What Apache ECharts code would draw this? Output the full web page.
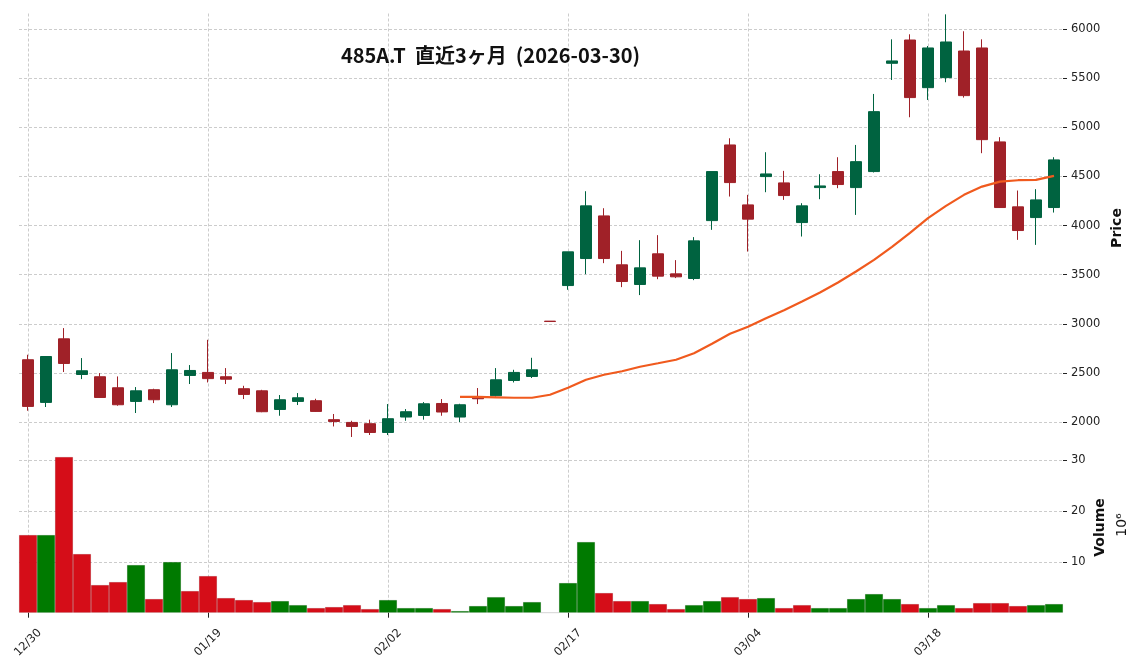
<!DOCTYPE html>
<html>
<head>
<meta charset="utf-8">
<script src="https://cdn.jsdelivr.net/npm/echarts@6/dist/echarts.min.js"></script>
<style>
html,body{margin:0;padding:0;background:#fff;}
#chart{width:1144px;height:670px;}
</style>
</head>
<body>
<div id="chart"></div>
<script>
const titleText = '485A.T  直近3ヶ月  (2026-03-30)';
const dates = ['12/30','01/05','01/06','01/07','01/08','01/09','01/13','01/14','01/15','01/16',
  '01/19','01/20','01/21','01/22','01/23','01/26','01/27','01/28','01/29','01/30',
  '02/02','02/03','02/04','02/05','02/06','02/09','02/10','02/12','02/13','02/16',
  '02/17','02/18','02/19','02/20','02/24','02/25','02/26','02/27','03/02','03/03',
  '03/04','03/05','03/06','03/09','03/10','03/11','03/12','03/13','03/16','03/17',
  '03/18','03/19','03/23','03/24','03/25','03/26','03/27','03/30'];
const opens  = [2634,2200,2847,2484,2461,2349,2210,2329,2176,2474,2505,2461,2339,2318,2128,2210,2217,2024,1996,1983,
  1894,2051,2067,2189,2051,2254,2268,2423,2464,3027,3389,3664,4098,3600,3400,3712,3508,3461,4050,4820,
  4210,4498,4434,4030,4386,4549,4386,4549,5651,5888,5403,5505,5776,5807,4851,4190,4081,4183];
const highs  = [2685,2670,2956,2651,2498,2464,2356,2339,2702,2580,2837,2549,2369,2328,2275,2295,2237,2082,2013,2024,
  2183,2132,2203,2234,2186,2346,2549,2532,2654,3027,3732,4349,4176,3742,3851,3902,3648,3882,4549,4888,
  4312,4746,4556,4227,4522,4695,4820,5339,5895,5946,5827,6149,5977,5895,4899,4356,4370,4695];
const lows   = [2115,2153,2509,2437,2245,2166,2092,2193,2153,2387,2403,2387,2234,2100,2064,2173,2105,1955,1848,1868,
  1868,2013,2024,2064,2000,2183,2260,2403,2448,3023,3346,3505,3617,3373,3292,3454,3465,3444,3956,4295,
  3735,4339,4261,3888,4268,4380,4108,4540,5481,5102,5278,5458,5302,4736,4180,3854,3803,4132];
const closes = [2159,2667,2596,2522,2250,2176,2318,2227,2532,2525,2442,2436,2281,2105,2227,2247,2108,2006,1955,1894,
  2034,2105,2186,2102,2176,2237,2430,2505,2532,3023,3732,4200,3664,3430,3569,3485,3478,3844,4549,4437,
  4065,4525,4305,4200,4403,4417,4650,5159,5675,5302,5807,5868,5322,4874,4183,3949,4261,4668];
// volume in units of 10^6
const volumes = [15.3,15.3,30.65,11.55,5.45,6.04,9.39,2.7,9.98,4.27,7.22,2.89,2.5,2.1,2.3,1.5,0.92,1.12,1.5,0.72,
  2.5,0.92,0.92,0.72,0.33,1.32,3.07,1.32,2.1,0,5.85,13.92,3.88,2.3,2.3,1.71,0.72,1.5,2.3,3.07,
  2.7,2.89,0.92,1.5,0.92,0.92,2.7,3.68,2.7,1.71,0.92,1.5,0.92,1.9,1.9,1.32,1.5,1.71];
// 25-day moving average as drawn
const ma25 = [null,null,null,null,null,null,null,null,null,null,null,null,null,null,null,null,null,null,null,null,
  null,null,null,null,2257,2257,2252,2247,2247,2278,2349,2430,2481,2517,2563,2598,2634,2700,2796,2898,
  2969,3056,3137,3227,3318,3420,3532,3651,3783,3925,4075,4200,4312,4396,4447,4461,4464,4505];
const priceTicks = [2000,2500,3000,3500,4000,4500,5000,5500,6000];
const volTicks = [10,20,30];
const dateTickIdx = [0,10,20,30,40,50];

const UP = '#006340', DOWN = '#a02128', VUP = '#007a00', VDOWN = '#d50d18';
const GRIDC = '#bfbfbf';
const FONT = 'DejaVu Sans';

const candleData = dates.map((d,i)=>[opens[i],closes[i],lows[i],highs[i]]);
const volData = volumes.map((v,i)=>{
  const up = i===0 ? closes[i]>=opens[i] : closes[i]>closes[i-1];
  const c = up ? VUP : VDOWN;
  return {value:v, itemStyle:{color:c}};
});
const vLines = dateTickIdx.map(i=>({xAxis:i}));
const vLineMark = {
  silent:true, symbol:['none','none'], z:1,
  label:{show:false},
  lineStyle:{color:GRIDC,type:[3,2],width:0.8},
  data:vLines, animation:false
};
const splitStyle = {show:true, lineStyle:{color:GRIDC,type:[3,2],width:0.8}};

const chart = echarts.init(document.getElementById('chart'), null, {renderer:'canvas'});
const gridL = 19, gridW = 1044;
chart.setOption({
  animation:false,
  backgroundColor:'#ffffff',
  grid:[
    {left:gridL, width:gridW, top:12, height:429.5},
    {left:gridL, width:gridW, top:441.5, height:171.2}
  ],
  xAxis:[
    {type:'category', gridIndex:0, data:dates, boundaryGap:true,
      axisLine:{show:false}, axisTick:{show:false}, axisLabel:{show:false}, splitLine:{show:false}},
    {type:'category', gridIndex:1, data:dates, boundaryGap:true,
      axisLine:{show:false},
      axisTick:{show:true, alignWithLabel:true, length:5, lineStyle:{color:'#222',width:1},
        interval:(i)=>dateTickIdx.indexOf(i)>=0},
      axisLabel:{show:true, interval:(i)=>dateTickIdx.indexOf(i)>=0, rotate:45, align:'center',
        verticalAlign:'middle', margin:30, color:'#222', fontFamily:FONT, fontSize:11.5},
      splitLine:{show:false}}
  ],
  yAxis:[
    {type:'value', gridIndex:0, position:'right', min:1802, max:6173,
      axisLine:{show:false},
      axisTick:{show:true, length:4, customValues:priceTicks, lineStyle:{color:'#222'}},
      axisLabel:{show:true, customValues:priceTicks, formatter:(v)=>String(v),
        color:'#222', fontFamily:FONT, fontSize:11.5, margin:8},
      splitLine:splitStyle},
    {type:'value', gridIndex:1, position:'right', min:0, max:33.7,
      axisLine:{show:false},
      axisTick:{show:true, length:4, customValues:volTicks, lineStyle:{color:'#222'}},
      axisLabel:{show:true, customValues:volTicks, formatter:(v)=>String(v),
        color:'#222', fontFamily:FONT, fontSize:11.5, margin:8},
      splitLine:splitStyle}
  ],
  series:[
    {type:'candlestick', xAxisIndex:0, yAxisIndex:0, data:candleData, barWidth:11, z:3,
      itemStyle:{color:UP, color0:DOWN, borderColor:UP, borderColor0:DOWN, borderWidth:1},
      markLine:vLineMark},
    {type:'line', xAxisIndex:0, yAxisIndex:0, data:ma25, showSymbol:false, symbol:'none', z:4,
      lineStyle:{color:'#f05a1e', width:2.2}, connectNulls:false},
    {type:'bar', xAxisIndex:1, yAxisIndex:1, data:volData, barWidth:'100%', barCategoryGap:'0%', z:3,
      itemStyle:{borderColor:'rgba(0,0,0,0.18)', borderWidth:0.5},
      markLine:vLineMark}
  ],
  graphic:[
    {type:'text', x:490.5, y:55.5, z:10, style:{text:titleText, font:'bold 20px "Noto Sans CJK JP"',
      fill:'#111', textAlign:'center', textVerticalAlign:'middle', align:'center', verticalAlign:'middle'}},
    {type:'text', x:1117, y:228, rotation:Math.PI/2, z:10, style:{text:'Price', font:'bold 14px "DejaVu Sans"',
      fill:'#111', textAlign:'center', textVerticalAlign:'middle', align:'center', verticalAlign:'middle'}},
    {type:'text', x:1100, y:527.5, rotation:Math.PI/2, z:10, style:{text:'Volume', font:'bold 14px "DejaVu Sans"',
      fill:'#111', textAlign:'center', textVerticalAlign:'middle', align:'center', verticalAlign:'middle'}},
    {type:'text', x:1122, y:525, rotation:Math.PI/2, z:10, style:{text:'10⁶', font:'14px "DejaVu Sans"',
      fill:'#111', textAlign:'center', textVerticalAlign:'middle', align:'center', verticalAlign:'middle'}}
  ]
});
</script>
</body>
</html>
